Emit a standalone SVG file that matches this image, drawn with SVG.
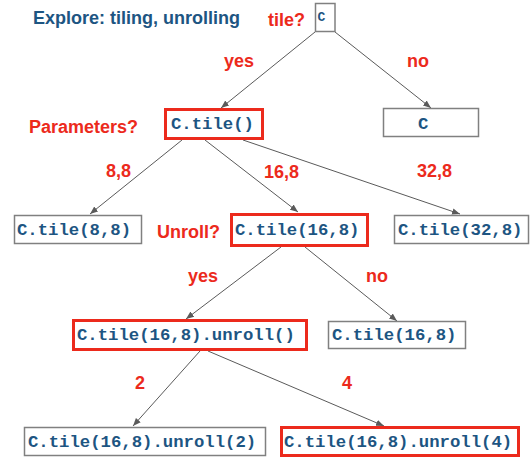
<svg xmlns="http://www.w3.org/2000/svg" width="531" height="457" viewBox="0 0 531 457">
<defs>
<style>
.lbl{font-family:"Liberation Sans",Arial,sans-serif;font-weight:bold;font-size:18px;fill:#ec2a1c}
.title{font-family:"Liberation Sans",Arial,sans-serif;font-weight:bold;font-size:18px;fill:#1d5582}
.code{font-family:"Liberation Mono","Courier New",monospace;font-weight:bold;font-size:17.3px;fill:#1d5582}
.box{fill:#fff;stroke:#808080;stroke-width:1.5}
.rbox{fill:#fff;stroke:#ec2a1c;stroke-width:3}
.edge{stroke:#5a5a5a;stroke-width:1;fill:none;marker-end:url(#arr)}
</style>
<marker id="arr" markerUnits="userSpaceOnUse" markerWidth="8" markerHeight="8" viewBox="0 0 8 8" refX="8" refY="4" orient="auto">
<path d="M0,0.8 L8,4 L0,7.2 Z" fill="#5a5a5a"/>
</marker>
</defs>
<rect width="531" height="457" fill="#fff"/>
<text class="title" x="33" y="24">Explore: tiling, unrolling</text>
<g id="labels">
<text class="lbl" x="268" y="26">tile?</text>
<text class="lbl" x="224" y="67">yes</text>
<text class="lbl" x="407" y="67">no</text>
<text class="lbl" x="29" y="133">Parameters?</text>
<text class="lbl" x="106" y="177">8,8</text>
<text class="lbl" x="264" y="178">16,8</text>
<text class="lbl" x="417" y="177">32,8</text>
<text class="lbl" x="157" y="238">Unroll?</text>
<text class="lbl" x="188" y="282">yes</text>
<text class="lbl" x="366" y="282">no</text>
<text class="lbl" x="135" y="389">2</text>
<text class="lbl" x="342" y="389">4</text>
</g>
<g id="connectors">
<line class="edge" x1="315" y1="32" x2="221" y2="108"/>
<line class="edge" x1="335" y1="32" x2="431" y2="108"/>
<line class="edge" x1="182" y1="140" x2="90" y2="214"/>
<line class="edge" x1="205" y1="140" x2="298" y2="212"/>
<line class="edge" x1="243" y1="140" x2="460" y2="214"/>
<line class="edge" x1="281" y1="247" x2="186" y2="319"/>
<line class="edge" x1="305" y1="247" x2="397" y2="321"/>
<line class="edge" x1="200" y1="351" x2="133" y2="426"/>
<line class="edge" x1="208" y1="351" x2="384" y2="426"/>
</g>
<g id="n_root">
<rect class="box" x="315.5" y="3.5" width="19.5" height="28"/>
<text class="code" x="317.5" y="21" style="font-size:13px">C</text>
</g>
<g id="n_tile">
<rect class="rbox" x="165.5" y="109.5" width="97" height="29"/>
<text class="code" x="171" y="129">C.tile()</text>
</g>
<g id="n_no">
<rect class="box" x="383.5" y="108.5" width="95" height="28"/>
<text class="code" x="418" y="129">C</text>
</g>
<g id="n_88">
<rect class="box" x="14.5" y="215.5" width="127" height="28"/>
<text class="code" x="17" y="235">C.tile(8,8)</text>
</g>
<g id="n_168">
<rect class="rbox" x="231.5" y="214.5" width="136" height="31"/>
<text class="code" x="235" y="235">C.tile(16,8)</text>
</g>
<g id="n_328">
<rect class="box" x="394.5" y="215.5" width="134" height="28"/>
<text class="code" x="398" y="235">C.tile(32,8)</text>
</g>
<g id="n_unroll">
<rect class="rbox" x="73.5" y="320.5" width="233" height="29"/>
<text class="code" x="77" y="340">C.tile(16,8).unroll()</text>
</g>
<g id="n_168b">
<rect class="box" x="328.5" y="321.5" width="137" height="27"/>
<text class="code" x="332" y="340">C.tile(16,8)</text>
</g>
<g id="n_u2">
<rect class="box" x="24.5" y="427.5" width="241" height="28"/>
<text class="code" x="28" y="447">C.tile(16,8).unroll(2)</text>
</g>
<g id="n_u4">
<rect class="rbox" x="281.5" y="427.5" width="237" height="28"/>
<text class="code" x="284" y="447">C.tile(16,8).unroll(4)</text>
</g>
</svg>
